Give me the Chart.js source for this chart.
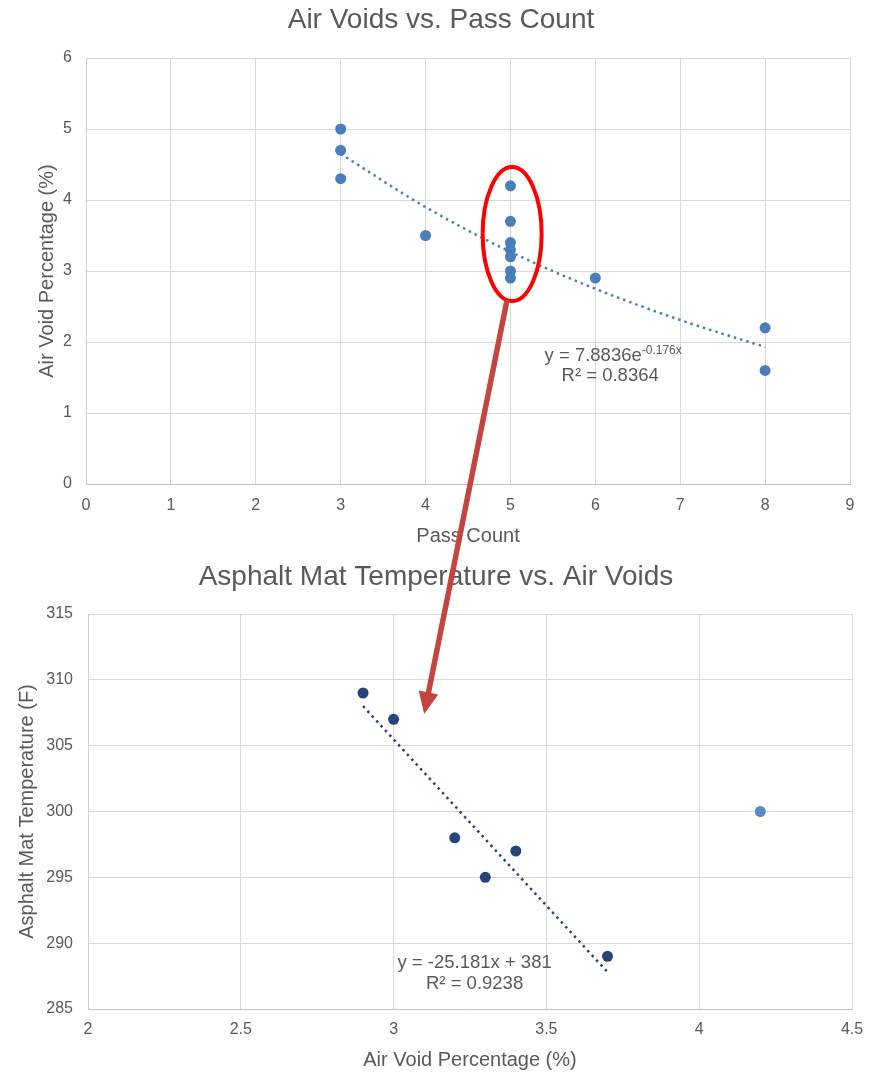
<!DOCTYPE html>
<html><head><meta charset="utf-8">
<script src="https://cdn.jsdelivr.net/npm/chart.js@4.4.1/dist/chart.umd.min.js"></script>
<style>
html,body{margin:0;padding:0;background:#fff;}
#wrap{position:relative;width:869px;height:1072px;overflow:hidden;}
#c1{position:absolute;left:0;top:0;width:869px;height:556px;}
#c2{position:absolute;left:0;top:556px;width:869px;height:516px;}
#ov{position:absolute;left:0;top:0;width:869px;height:1072px;pointer-events:none;}
</style></head><body>
<div id="wrap">
<canvas id="c1" width="869" height="556"></canvas>
<canvas id="c2" width="869" height="516"></canvas>
<canvas id="ov" width="869" height="1072"></canvas>
</div>
<script>
// ---- Chart 1 data: Air Voids vs. Pass Count ----
const passCount   = [3, 3, 3, 4, 5, 5, 5, 5, 5, 5, 5, 6, 8, 8];
const airVoidPct  = [5.0, 4.7, 4.3, 3.5, 4.2, 3.7, 3.4, 3.3, 3.2, 3.0, 2.9, 2.9, 2.2, 1.6];
// exponential trendline (y = 7.8836e^-0.176x)
const trend1X     = [3, 4, 5, 6, 7, 8];
const trend1Y     = [4.65, 3.90, 3.27, 2.75, 2.31, 1.93];
const xTicks1     = [0, 1, 2, 3, 4, 5, 6, 7, 8, 9];
const yTicks1     = [0, 1, 2, 3, 4, 5, 6];

// ---- Chart 2 data: Asphalt Mat Temperature vs. Air Voids ----
const airVoid2    = [2.9, 3.0, 3.2, 3.4, 3.3, 3.7];
const matTemp     = [309, 307, 298, 297, 295, 289];
const outlierVoid = [4.2];
const outlierTemp = [300];
// linear trendline (y = -25.181x + 381)
const trend2X     = [2.9, 3.7];
const trend2Y     = [308.0, 287.8];
const xTicks2     = [2, 2.5, 3, 3.5, 4, 4.5];
const yTicks2     = [285, 290, 295, 300, 305, 310, 315];

const FONT = "'Liberation Sans', Arial, Helvetica, sans-serif";
const GREY = '#595959';
const BLUE = '#4a7ebb';
const NAVY = '#264478';
Chart.defaults.font.family = FONT;
Chart.defaults.color = GREY;

function pts(xs, ys){ return xs.map((x,i)=>({x:x, y:ys[i]})); }

function eqPlugin(cfg){
  return {
    id:'eq',
    afterDatasetsDraw(chart){
      const ctx = chart.ctx, xs = chart.scales.x, ys = chart.scales.y;
      const cx = xs.getPixelForValue(cfg.at[0]);
      const cy = ys.getPixelForValue(cfg.at[1]);
      const F = '18.5px ' + FONT, FS = '12px ' + FONT;
      ctx.save();
      ctx.fillStyle = GREY;
      ctx.textBaseline = 'middle';
      ctx.font = F;
      const wMain = ctx.measureText(cfg.line1).width;
      let wSup = 0;
      if (cfg.sup){ ctx.font = FS; wSup = ctx.measureText(cfg.sup).width; }
      const start = cx - (wMain + wSup)/2;
      ctx.textAlign = 'left';
      ctx.font = F;
      ctx.fillText(cfg.line1, start, cy);
      if (cfg.sup){ ctx.font = FS; ctx.fillText(cfg.sup, start + wMain, cy - 6); }
      ctx.font = F;
      ctx.textAlign = 'center';
      ctx.fillText(cfg.line2, cx + (cfg.dx2||0), cy + cfg.gap);
      ctx.restore();
    }
  };
}

function mkScale(o){
  return {
    type:'linear', min:o.min, max:o.max,
    afterBuildTicks(s){ s.ticks = o.ticks.map(v=>({value:v})); },
    ticks:{padding:o.tickPad, font:{size:16}, color:GREY, callback:(v)=>String(v)},
    grid:{color:'#d9d9d9', lineWidth:1, drawTicks:false},
    border:{color:o.border, width:1},
    title:{display:true, text:o.title, font:{size:20}, color:GREY, padding:o.titlePad},
    afterFit(s){
      if (o.w) s.width = o.w;
      if (o.h) { s.height = o.h; s.paddingLeft = 0; s.paddingRight = 0; }
    }
  };
}

const chart1 = new Chart(document.getElementById('c1'), {
  type:'scatter',
  data:{datasets:[
    {data:pts(passCount, airVoidPct), backgroundColor:BLUE, borderWidth:0,
     pointRadius:5.5, pointHoverRadius:5.5, pointBorderWidth:0, order:1},
    {type:'line', data:pts(trend1X, trend1Y), borderColor:BLUE, borderWidth:2.5,
     borderDash:[2.5,4], pointRadius:0, fill:false, cubicInterpolationMode:'monotone', order:2}
  ]},
  options:{
    responsive:false, animation:false, events:[],
    layout:{padding:{left:32, right:19, top:0, bottom:0}},
    plugins:{
      legend:{display:false}, tooltip:{enabled:false},
      title:{display:true, text:'Air Voids vs. Pass Count', color:GREY,
             font:{size:28, weight:'normal'}, padding:{top:3.2, bottom:21.2}}
    },
    scales:{
      x: mkScale({min:0, max:9, ticks:xTicks1, tickPad:12, border:'#bfbfbf',
                  title:'Pass Count', titlePad:{top:0, bottom:8}, h:72}),
      y: mkScale({min:0, max:6, ticks:yTicks1, tickPad:14, border:'#d0d0d0',
                  title:'Air Void Percentage (%)', titlePad:{top:3, bottom:0}, w:54})
    }
  },
  plugins:[eqPlugin({at:[6.21, 1.80], line1:'y = 7.8836e', sup:'-0.176x', line2:'R² = 0.8364', gap:20, dx2:-3})]
});

const chart2 = new Chart(document.getElementById('c2'), {
  type:'scatter',
  data:{datasets:[
    {data:pts(airVoid2, matTemp), backgroundColor:NAVY, borderWidth:0,
     pointRadius:5.5, pointHoverRadius:5.5, pointBorderWidth:0, order:1},
    {data:pts(outlierVoid, outlierTemp), backgroundColor:'#5b8ac8', borderWidth:0,
     pointRadius:5.5, pointHoverRadius:5.5, pointBorderWidth:0, order:1},
    {type:'line', data:pts(trend2X, trend2Y), borderColor:NAVY, borderWidth:2.5,
     borderDash:[2.5,4], pointRadius:0, fill:false, order:2}
  ]},
  options:{
    responsive:false, animation:false, events:[],
    layout:{padding:{left:20, right:17, top:0, bottom:0}},
    plugins:{
      legend:{display:false}, tooltip:{enabled:false},
      title:{display:true, text:'Asphalt Mat Temperature vs. Air Voids', color:GREY,
             font:{size:28, weight:'normal'}, padding:{top:4.2, bottom:20.2}}
    },
    scales:{
      x: mkScale({min:2, max:4.5, ticks:xTicks2, tickPad:11, border:'#bfbfbf',
                  title:'Air Void Percentage (%)', titlePad:{top:0, bottom:0}, h:63}),
      y: mkScale({min:285, max:315, ticks:yTicks2, tickPad:15, border:'#d0d0d0',
                  title:'Asphalt Mat Temperature (F)', titlePad:{top:-5, bottom:0}, w:68})
    }
  },
  plugins:[eqPlugin({at:[3.265, 288.5], line1:'y = -25.181x + 381', line2:'R² = 0.9238', gap:21})]
});

// ---- Overlay: red ellipse around the pass-count-5 cluster and arrow to chart 2 ----
(function(){
  const ctx = document.getElementById('ov').getContext('2d');
  const top2 = 556;
  const ecx = chart1.scales.x.getPixelForValue(5.02);
  const ecy = chart1.scales.y.getPixelForValue(3.52);
  const rx = 29.5, ry = 67;
  ctx.save();
  ctx.strokeStyle = '#ff0000';
  ctx.lineWidth = 4;
  ctx.beginPath();
  ctx.ellipse(ecx, ecy, rx, ry, 0, 0, Math.PI*2);
  ctx.stroke();

  const th = 100*Math.PI/180;
  const sx = ecx + rx*Math.cos(th), sy = ecy + ry*Math.sin(th);
  const tx = chart2.scales.x.getPixelForValue(3.10);
  const ty = chart2.scales.y.getPixelForValue(307.4) + top2;
  const dx = tx - sx, dy = ty - sy, L = Math.hypot(dx, dy);
  const ux = dx/L, uy = dy/L, px = -uy, py = ux;
  const headLen = 22, headHalf = 10;
  const bx = tx - ux*headLen, by = ty - uy*headLen;
  ctx.strokeStyle = '#c4453f';
  ctx.fillStyle = '#c4453f';
  ctx.lineWidth = 5.5;
  ctx.lineCap = 'butt';
  ctx.beginPath();
  ctx.moveTo(sx, sy);
  ctx.lineTo(bx + ux*2, by + uy*2);
  ctx.stroke();
  ctx.beginPath();
  ctx.moveTo(tx, ty);
  ctx.lineTo(bx + px*headHalf, by + py*headHalf);
  ctx.lineTo(bx - px*headHalf, by - py*headHalf);
  ctx.closePath();
  ctx.fill();
  ctx.restore();
})();
</script>
</body></html>
